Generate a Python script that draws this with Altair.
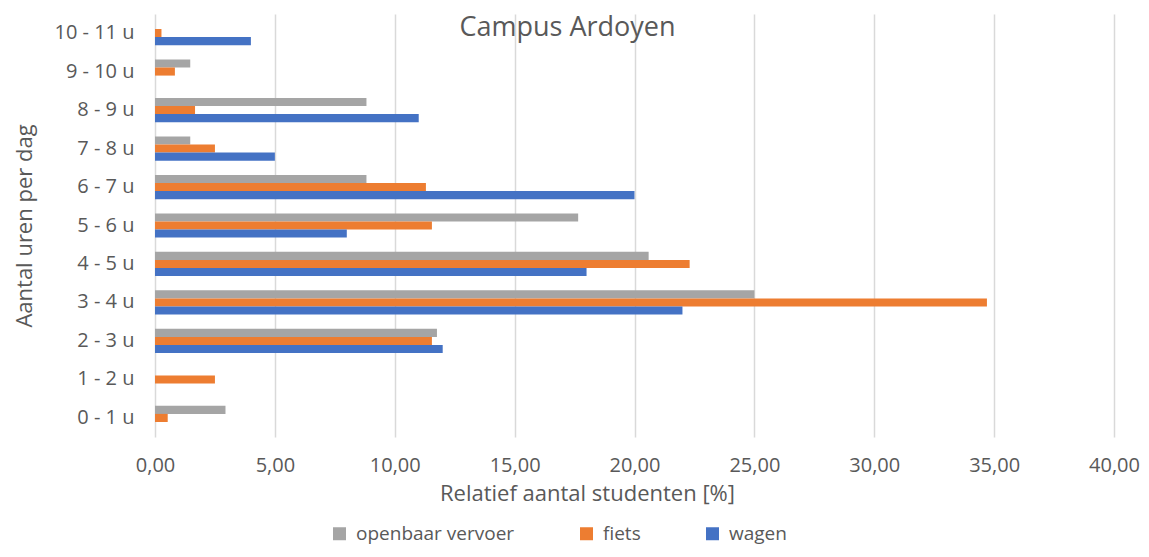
import altair as alt
import pandas as pd

categories = ["0 - 1 u", "1 - 2 u", "2 - 3 u", "3 - 4 u", "4 - 5 u", "5 - 6 u",
              "6 - 7 u", "7 - 8 u", "8 - 9 u", "9 - 10 u", "10 - 11 u"]
openbaar = [2.94, 0, 11.76, 25.0, 20.59, 17.65, 8.82, 1.47, 8.82, 1.47, 0]
fiets = [0.53, 2.5, 11.55, 34.7, 22.3, 11.55, 11.3, 2.5, 1.67, 0.83, 0.27]
wagen = [0, 0, 12.0, 22.0, 18.0, 8.0, 20.0, 5.0, 11.0, 0, 4.0]
series = ["openbaar vervoer", "fiets", "wagen"]
colors = ["#A5A5A5", "#ED7D31", "#4472C4"]
x_ticks = [0, 5, 10, 15, 20, 25, 30, 35, 40]

rows = []
for name, vals in zip(series, [openbaar, fiets, wagen]):
    for c, v in zip(categories, vals):
        rows.append({"uren": c, "reeks": name, "waarde": v})
df = pd.DataFrame(rows)

FONT = "Open Sans"
TXT = "#595959"

chart = alt.Chart(df).mark_bar().encode(
    x=alt.X("waarde:Q",
            scale=alt.Scale(domain=[0, 40]),
            axis=alt.Axis(values=x_ticks,
                          labelExpr="replace(format(datum.value, '.2f'), '.', ',')",
                          title="Relatief aantal studenten [%]",
                          grid=True, domain=False, ticks=False, labelFlush=False,
                          gridColor="#D9D9D9", gridWidth=1.5,
                          labelPadding=18, titlePadding=8,
                          titleX=432, titleAnchor="middle",
                          labelFontSize=20, titleFontSize=22)),
    y=alt.Y("uren:N", sort=categories[::-1],
            scale=alt.Scale(paddingInner=0.37, paddingOuter=0.18),
            axis=alt.Axis(title="Aantal uren per dag", ticks=False, domain=False,
                          labelPadding=21, labelFontSize=20, titleFontSize=22,
                          titleX=-119)),
    yOffset=alt.YOffset("reeks:N", sort=series, scale=alt.Scale(domain=series)),
    color=alt.Color("reeks:N", scale=alt.Scale(domain=series, range=colors),
                    legend=alt.Legend(title=None, orient="none", direction="horizontal",
                                      legendX=175, legendY=510, padding=0,
                                      symbolType="square", symbolSize=169,
                                      symbolStrokeWidth=0, labelFontSize=19,
                                      labelOffset=7, columnPadding=62,
                                      labelFont=FONT, labelColor=TXT)),
).properties(
    width=959, height=423,
    title=alt.TitleParams("Campus Ardoyen", anchor="middle", dx=-67, offset=-28,
                          fontSize=27, font=FONT, color=TXT, fontWeight="normal"),
    autosize=alt.AutoSizeParams(type="none"),
    padding={"left": 147, "top": 6, "right": 27, "bottom": 112},
).configure_view(stroke=None).configure_axis(
    labelFont=FONT, titleFont=FONT, labelColor=TXT, titleColor=TXT,
    titleFontWeight="normal"
)

chart.save("out.html", embed_options={"renderer": "svg", "actions": False})
